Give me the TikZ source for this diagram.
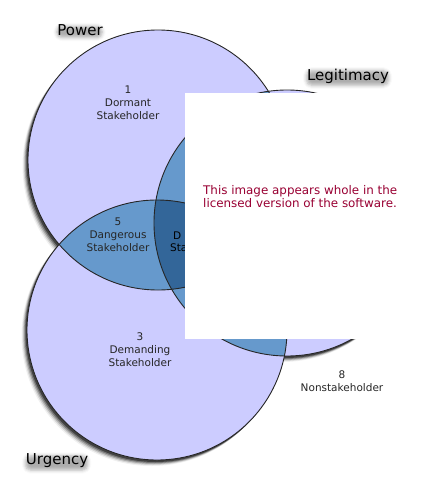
\documentclass[tikz,border=0pt]{standalone}
\usepackage{fontspec}
\setmainfont{DejaVu Sans}
\usepackage{tikz}
\usetikzlibrary{shadows.blur}

\definecolor{lilac}{HTML}{CCCCFF}
\definecolor{midblue}{HTML}{6699CC}
\definecolor{deepblue}{HTML}{336699}
\definecolor{noticered}{HTML}{990033}

\tikzset{
  region/.style={align=center,font=\fontsize{10.5}{13}\selectfont,text=black!85,inner sep=0pt},
  setname/.style={font=\fontsize{15}{18}\selectfont,inner sep=0pt,rounded corners=5pt,
    blur shadow={shadow xshift=-0.5pt,shadow yshift=-2pt,shadow opacity=32,shadow blur radius=3.5pt}},
}

\begin{document}
\begin{tikzpicture}[x=1pt,y=-1pt]
\useasboundingbox (0,0) rectangle (446,498);

% Sets
\def\power{(158,160) circle[radius=130pt]}
\def\urgency{(157,330) circle[radius=130pt]}
\def\legit{(287,223) circle[radius=133pt]}

% Shadows
\foreach \dx/\dy/\op in {-1.5/2/0.45,-2.5/3/0.3,-3.5/4/0.2,-4.5/5/0.12,-5.5/6/0.06}{
  \fill[black,opacity=\op,xshift=\dx pt,yshift=-\dy pt] \power;
  \fill[black,opacity=\op,xshift=\dx pt,yshift=-\dy pt] \urgency;
  \fill[black,opacity=\op,xshift=\dx pt,yshift=-\dy pt] \legit;
}

% Fills
\fill[lilac] \power;
\fill[lilac] \urgency;
\fill[lilac] \legit;
\begin{scope}
  \clip \power;
  \fill[midblue] \urgency;
  \fill[midblue] \legit;
\end{scope}
\begin{scope}
  \clip \urgency;
  \fill[midblue] \legit;
\end{scope}
\begin{scope}
  \clip \power;
  \clip \urgency;
  \fill[deepblue] \legit;
\end{scope}

% Outlines
\draw[line width=0.9pt,black!85] \power;
\draw[line width=0.9pt,black!85] \urgency;
\draw[line width=0.9pt,black!85] \legit;

% Set names
\node[setname] (power) at (80,30) {Power};
\node[setname] (legit) at (348,76) {Legitimacy};
\node[setname] (urgency) at (57,461) {Urgency};

% Regions
\node[region] (dormant) at (128,103) {1\\Dormant\\Stakeholder};
\node[region] (dangerous) at (118,235) {5\\Dangerous\\Stakeholder};
\node[region] (demanding) at (140,350) {3\\Demanding\\Stakeholder};
\node[region] (nonstake) at (342,381) {8\\Nonstakeholder};
\node[region,anchor=base west,text=black] (definitea) at (173,239) {D};
\node[region,anchor=base west,text=black] (definiteb) at (170,251) {Sta};

% Notice
\fill[white] (185,93) rectangle (440,339);
\node[anchor=west,align=left,text=noticered,inner sep=0pt,
  font=\fontsize{11.9}{11.3}\selectfont] (notice) at (203,196.5)
  {This image appears whole in the\\licensed version of the software.};

\end{tikzpicture}
\end{document}
